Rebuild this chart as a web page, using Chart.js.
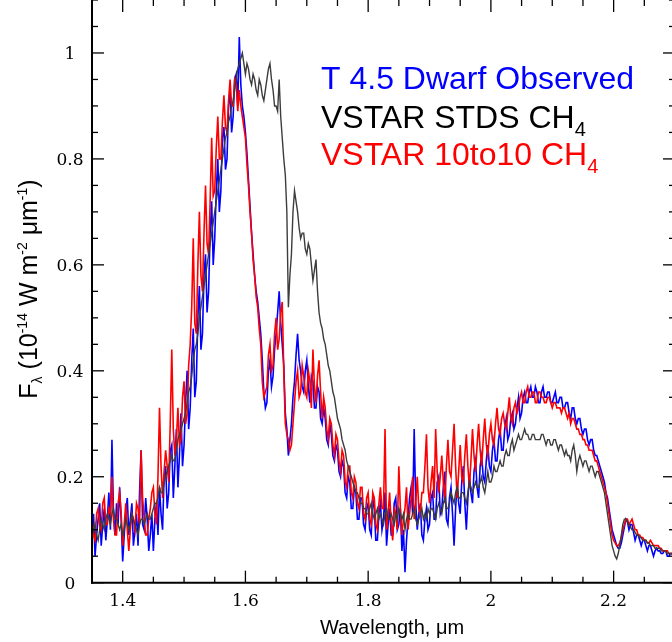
<!DOCTYPE html>
<html lang="en">
<head>
<meta charset="UTF-8">
<title>T 4.5 Dwarf vs VSTAR CH4 models</title>
<script src="https://cdn.jsdelivr.net/npm/chart.js"></script>
<style>
  body { margin: 0; background: #fff; }
  #wrap { width: 672px; height: 642px; overflow: hidden; position: relative; }
  canvas { display: block; }
</style>
</head>
<body>
<div id="wrap"><canvas id="spec" width="680" height="642"></canvas></div>
<script>
// spectra sampled every 0.0025 micron from 1.35 to 2.30 micron (one row = 0.05 micron)
const waveStart = 1.35;
const waveStep = 0.0025;

const seriesNames = ['T 4.5 Dwarf Observed', 'VSTAR STDS CH', 'VSTAR 10to10 CH'];

const observed = [
  .10,.13,.05,.09,.12,.15,.07,.11,.14,.08,.12,.17,.10,.27,.13,.09,.15,.11,.18,.12,
  .04,.09,.13,.16,.09,.12,.15,.07,.10,.13,.07,.17,.25,.11,.10,.16,.12,.06,.09,.13,
  .06,.12,.15,.09,.18,.13,.10,.20,.22,.14,.17,.25,.26,.16,.22,.29,.18,.24,.32,.22,
  .26,.34,.40,.29,.33,.42,.48,.35,.38,.50,.56,.44,.47,.58,.62,.51,.55,.66,.72,.60,
  .65,.74,.80,.70,.74,.84,.86,.78,.80,.90,.93,.85,.88,.95,.96,.90,1.03,.94,.90,.88,
  .85,.81,.76,.71,.66,.62,.58,.55,.53,.50,.47,.42,.36,.33,.34,.40,.42,.37,.39,.44,
  .47,.51,.55,.49,.45,.41,.32,.29,.24,.27,.30,.35,.38,.43,.47,.42,.40,.37,.36,.40,
  .42,.37,.34,.39,.38,.33,.33,.37,.36,.31,.30,.33,.31,.27,.26,.30,.28,.24,.23,.26,
  .25,.21,.20,.23,.22,.17,.16,.20,.19,.14,.14,.18,.17,.12,.12,.16,.16,.11,.10,.14,
  .15,.10,.09,.16,.14,.08,.08,.13,.15,.10,.12,.17,.07,.11,.14,.09,.09,.15,.16,.10,
  .11,.14,.06,.10,.02,.08,.12,.16,.18,.13,.29,.15,.10,.13,.15,.09,.08,.12,.14,.10,
  .11,.16,.17,.12,.12,.19,.20,.13,.14,.18,.21,.12,.11,.16,.18,.13,.07,.14,.19,.15,
  .13,.19,.22,.15,.10,.16,.20,.17,.15,.21,.23,.18,.16,.22,.24,.20,.19,.23,.26,.22,
  .21,.25,.27,.23,.23,.27,.29,.25,.25,.29,.31,.27,.28,.31,.32,.29,.30,.33,.35,.31,
  .32,.35,.36,.34,.34,.36,.37,.35,.35,.37,.36,.34,.34,.36,.37,.35,.35,.36,.36,.34,
  .34,.35,.36,.34,.34,.35,.35,.33,.33,.34,.34,.32,.31,.33,.33,.31,.30,.31,.31,.29,
  .28,.29,.29,.27,.26,.27,.27,.25,.24,.24,.23,.22,.21,.20,.19,.17,.16,.14,.12,.10,
  .09,.08,.07,.065,.065,.075,.09,.105,.12,.115,.10,.11,.11,.095,.08,.09,.09,.08,.07,.08,
  .08,.07,.06,.07,.07,.06,.05,.06,.065,.06,.06,.055,.055,.06,.06,.05,.05,.055,.055,.05,
  .05
];

const stds = [
  .09,.10,.11,.09,.08,.10,.12,.11,.10,.12,.13,.12,.11,.13,.14,.12,.12,.11,.10,.11,
  .09,.10,.12,.11,.10,.11,.13,.12,.11,.10,.09,.11,.12,.12,.11,.12,.13,.12,.12,.13,
  .14,.15,.15,.16,.18,.17,.17,.19,.20,.21,.22,.23,.24,.23,.23,.25,.27,.28,.29,.30,
  .31,.32,.34,.36,.37,.39,.42,.44,.45,.47,.50,.52,.54,.56,.58,.60,.62,.64,.66,.68,
  .70,.72,.74,.76,.78,.80,.82,.84,.85,.87,.88,.90,.91,.93,.95,.97,.98,.99,1.00,.98,
  .96,.98,.97,.95,.94,.96,.95,.93,.92,.95,.94,.92,.91,.93,.95,.97,.98,.95,.93,.90,
  .90,.89,.95,.88,.84,.80,.77,.70,.52,.58,.62,.70,.74,.72,.70,.67,.65,.66,.66,.63,
  .62,.64,.63,.60,.57,.59,.61,.55,.51,.49,.48,.46,.45,.43,.41,.40,.38,.36,.35,.33,
  .31,.30,.29,.27,.26,.25,.23,.22,.21,.20,.19,.18,.17,.17,.16,.15,.15,.14,.14,.13,
  .13,.14,.15,.13,.12,.13,.14,.12,.13,.12,.11,.13,.14,.12,.12,.13,.12,.11,.13,.12,
  .14,.13,.12,.13,.10,.12,.13,.12,.12,.13,.14,.12,.11,.12,.13,.14,.12,.13,.12,.14,
  .13,.14,.14,.13,.12,.14,.15,.14,.13,.15,.16,.14,.14,.15,.17,.16,.15,.17,.18,.16,
  .16,.17,.17,.16,.15,.17,.19,.18,.17,.18,.19,.18,.18,.19,.20,.18,.17,.19,.21,.19,
  .19,.20,.22,.21,.21,.22,.23,.22,.22,.24,.25,.24,.24,.26,.27,.25,.26,.27,.28,.27,
  .27,.28,.29,.28,.28,.27,.27,.28,.28,.27,.27,.27,.27,.28,.28,.27,.26,.27,.27,.26,
  .26,.27,.27,.26,.25,.26,.26,.25,.24,.25,.24,.24,.23,.25,.26,.24,.21,.23,.24,.23,
  .22,.23,.23,.22,.21,.22,.22,.21,.20,.21,.21,.20,.19,.18,.17,.15,.13,.11,.09,.07,
  .06,.05,.045,.055,.07,.09,.11,.12,.12,.115,.11,.105,.10,.10,.095,.09,.09,.085,.085,.08,
  .08,.08,.075,.075,.07,.07,.07,.065,.065,.065,.065,.06,.06,.06,.06,.055,.055,.055,.055,.05,
  .05
];

const tenToTen = [
  .12,.09,.08,.13,.14,.11,.10,.15,.16,.11,.11,.14,.13,.20,.12,.09,.09,.15,.17,.13,
  .07,.11,.15,.10,.06,.10,.13,.12,.10,.15,.14,.11,.25,.16,.12,.09,.09,.12,.14,.17,
  .18,.13,.11,.20,.33,.22,.16,.21,.25,.22,.19,.30,.44,.29,.24,.27,.33,.26,.27,.35,
  .38,.30,.32,.41,.45,.52,.65,.49,.47,.60,.70,.58,.55,.66,.75,.64,.62,.72,.84,.73,
  .74,.82,.88,.80,.80,.87,.92,.86,.85,.91,.95,.90,.90,.95,.94,.89,.93,.90,.88,.86,
  .84,.79,.75,.70,.66,.61,.58,.54,.52,.48,.45,.38,.35,.36,.37,.43,.45,.40,.41,.47,
  .50,.44,.46,.51,.53,.40,.30,.28,.27,.25,.26,.30,.34,.38,.40,.35,.36,.41,.39,.36,
  .35,.40,.38,.33,.44,.37,.34,.39,.42,.36,.31,.35,.33,.29,.27,.31,.30,.26,.24,.28,
  .27,.23,.21,.25,.24,.19,.18,.22,.22,.17,.16,.20,.19,.15,.14,.18,.18,.13,.12,.16,
  .17,.12,.11,.17,.16,.11,.10,.15,.18,.14,.14,.29,.10,.13,.17,.11,.08,.14,.13,.10,
  .22,.14,.09,.12,.14,.18,.10,.13,.16,.20,.12,.15,.20,.14,.13,.17,.17,.22,.28,.18,
  .15,.19,.22,.16,.29,.21,.17,.20,.24,.19,.15,.22,.27,.21,.20,.25,.30,.22,.16,.21,
  .26,.20,.19,.24,.28,.22,.18,.23,.29,.24,.21,.26,.30,.25,.22,.27,.31,.26,.24,.28,
  .30,.27,.26,.30,.33,.29,.28,.31,.32,.30,.29,.32,.35,.31,.30,.33,.34,.32,.33,.35,
  .36,.34,.34,.36,.37,.35,.35,.36,.36,.34,.34,.36,.36,.35,.35,.34,.34,.35,.35,.34,
  .33,.34,.34,.33,.33,.33,.32,.33,.33,.32,.31,.32,.30,.31,.31,.30,.29,.29,.28,.28,
  .27,.27,.26,.26,.25,.25,.25,.24,.23,.23,.22,.21,.20,.19,.18,.17,.15,.13,.11,.09,
  .08,.075,.07,.07,.075,.085,.10,.11,.12,.12,.11,.115,.12,.11,.10,.10,.09,.09,.085,.085,
  .08,.08,.075,.075,.08,.075,.07,.07,.07,.07,.065,.065,.06,.06,.06,.06,.055,.055,.055,.05,
  .05
];

const xTickValues = [1.4, 1.6, 1.8, 2.0, 2.2];
const xTickLabels = ['1.4', '1.6', '1.8', '2', '2.2'];
const yTickValues = [0, 0.2, 0.4, 0.6, 0.8, 1.0];
const yTickLabels = ['0', '0.2', '0.4', '0.6', '0.8', '1'];

const wavelengths = observed.map((v, i) => +(waveStart + i * waveStep).toFixed(4));
function pts(arr) { return arr.map((v, i) => ({ x: wavelengths[i], y: v })); }

const sans = '"Liberation Sans", Arial, sans-serif';
const serif = '"DejaVu Serif", serif';

function richWidth(ctx, parts) {
    let w = 0;
    parts.forEach(([t, size]) => { ctx.font = size + 'px ' + sans; w += ctx.measureText(t).width; });
    return w;
}
function drawRich(ctx, parts, x, y) {
    let cx = x;
    parts.forEach(([t, size, shift]) => {
        ctx.font = size + 'px ' + sans;
        ctx.fillText(t, cx, y + shift);
        cx += ctx.measureText(t).width;
    });
}
function isIn(v, list) { return list.some(t => Math.abs(t - v) < 1e-6); }

// inward ticks on all four sides, axis lines, labels, titles and the text legend
const decorations = {
    id: 'decorations',
    afterDraw(chart) {
        const { ctx, chartArea: a, scales: { x, y } } = chart;
        ctx.save();
        ctx.strokeStyle = '#000';
        ctx.fillStyle = '#000';
        const seg = (x1, y1, x2, y2) => { ctx.beginPath(); ctx.moveTo(x1, y1); ctx.lineTo(x2, y2); ctx.stroke(); };

        ctx.lineWidth = 1.3;
        x.ticks.forEach(t => {
            const px = x.getPixelForValue(t.value);
            const len = isIn(t.value, xTickValues) ? 12 : 6;
            seg(px, a.bottom, px, a.bottom - len);
            seg(px, a.top, px, a.top + len);
        });
        y.ticks.forEach(t => {
            const py = y.getPixelForValue(t.value);
            const len = isIn(t.value, yTickValues) ? 12 : 6;
            seg(a.left, py, a.left + len, py);
            seg(a.right, py, a.right - len, py);
        });

        ctx.lineWidth = 2;
        seg(a.left, a.top, a.left, a.bottom + 1);
        seg(a.left - 1, a.bottom, a.right, a.bottom);
        seg(a.right, a.top, a.right, a.bottom);

        ctx.font = '17px ' + serif;
        ctx.textAlign = 'center';
        ctx.textBaseline = 'alphabetic';
        xTickValues.forEach((v, i) => ctx.fillText(xTickLabels[i], x.getPixelForValue(v), a.bottom + 23));
        yTickValues.forEach((v, i) => ctx.fillText(yTickLabels[i], a.left - 22, y.getPixelForValue(v) + 6));

        ctx.textAlign = 'left';
        const xt = [['Wavelength, \u03bcm', 20, 0]];
        drawRich(ctx, xt, 392 - richWidth(ctx, xt) / 2, 634);

        const yt = [['F', 25, 0], ['\u03bb', 14, 5], [' (10', 25, 0], ['-14', 14, -10], [' W m', 25, 0],
                    ['-2', 14, -10], [' \u03bcm', 25, 0], ['-1', 14, -10], [')', 25, 0]];
        ctx.save();
        ctx.translate(37, 289);
        ctx.rotate(-Math.PI / 2);
        drawRich(ctx, yt, -richWidth(ctx, yt) / 2, 0);
        ctx.restore();

        const ds = chart.data.datasets;
        ctx.fillStyle = ds[0].borderColor;
        drawRich(ctx, [[ds[0].label, 32, 0]], 321, 89);
        ctx.fillStyle = '#000';
        drawRich(ctx, [[ds[1].label, 32, 0], ['4', 20, 8]], 321, 128);
        ctx.fillStyle = ds[2].borderColor;
        drawRich(ctx, [[ds[2].label, 32, 0], ['4', 20, 8]], 321, 165);
        ctx.restore();
    }
};

new Chart(document.getElementById('spec'), {
    type: 'line',
    data: {
        datasets: [
            { label: seriesNames[0], data: pts(observed), borderColor: '#0000ff', borderWidth: 1.6, order: 2 },
            { label: seriesNames[1], data: pts(stds), borderColor: '#3c3c3c', borderWidth: 1.4, order: 0 },
            { label: seriesNames[2], data: pts(tenToTen), borderColor: '#ff0000', borderWidth: 1.6, order: 1 }
        ]
    },
    options: {
        responsive: false,
        animation: false,
        events: [],
        elements: { point: { radius: 0 }, line: { tension: 0, fill: false } },
        layout: { padding: { left: 0, right: 5, top: 0, bottom: 0 } },
        plugins: { legend: { display: false }, tooltip: { enabled: false } },
        scales: {
            x: {
                type: 'linear', min: 1.35, max: 2.3,
                ticks: { display: false, stepSize: 0.05 },
                grid: { display: false, drawTicks: false },
                border: { display: false },
                afterFit(s) { s.height = 59.3; }
            },
            y: {
                type: 'linear', min: 0, max: 1.1,
                ticks: { display: false, stepSize: 0.05 },
                grid: { display: false, drawTicks: false },
                border: { display: false },
                afterFit(s) { s.width = 92; }
            }
        }
    },
    plugins: [decorations]
});
</script>
</body>
</html>
